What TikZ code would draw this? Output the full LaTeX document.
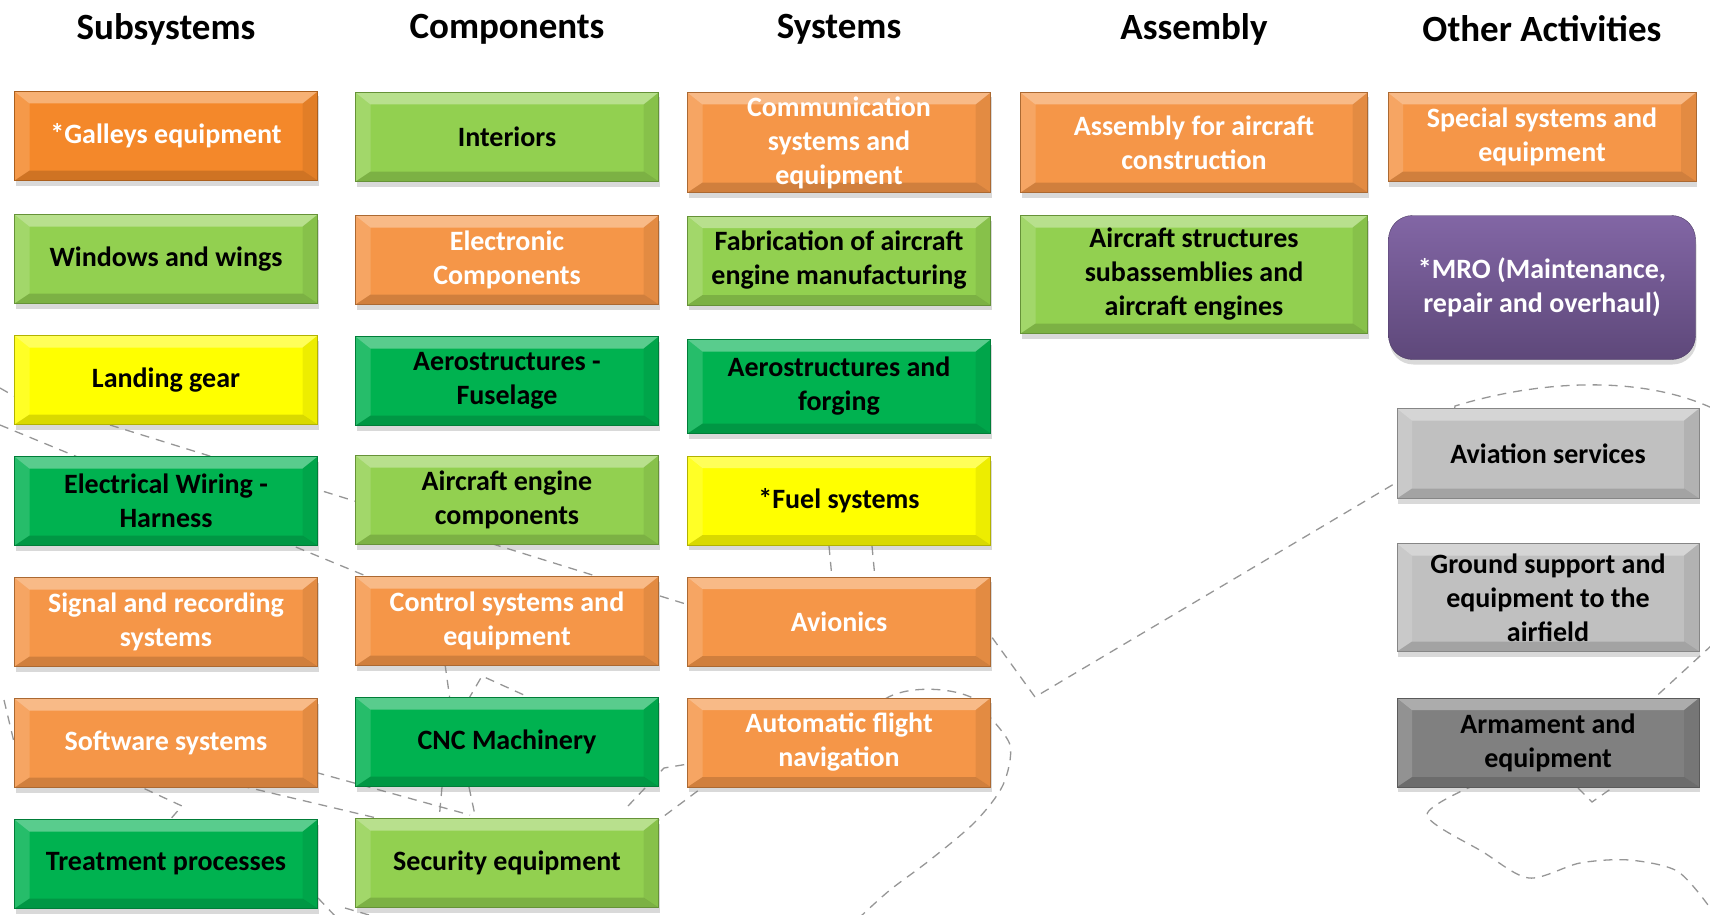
\documentclass[tikz,border=0pt]{standalone}
\usepackage{fontspec}
\setmainfont{Carlito}
\usepackage{tikz}
\usetikzlibrary{positioning,shadows}
\definecolor{boxorange}{RGB}{245,150,72}
\definecolor{galleyorange}{RGB}{244,136,42}
\definecolor{lightgreen}{RGB}{146,208,80}
\definecolor{darkgreen}{RGB}{0,178,80}
\definecolor{boxyellow}{RGB}{255,255,0}
\definecolor{lightgrey}{RGB}{192,192,192}
\definecolor{darkgrey}{RGB}{128,128,128}
\definecolor{mrotop}{RGB}{130,102,165}
\definecolor{mrobottom}{RGB}{94,72,122}
\definecolor{mapline}{RGB}{150,150,150}
\newcommand\boxfont{\fontsize{28}{34}\selectfont\bfseries}
\tikzset{
	node distance=121pt,
	on grid,
	header/.style={font=\fontsize{37}{44}\selectfont\bfseries},
	bevel/.style={path picture={
		\fill[white,opacity=.35] (path picture bounding box.north west) -- (path picture bounding box.north east) -- ([shift={(-15pt,-12pt)}]path picture bounding box.north east) -- ([shift={(15pt,-12pt)}]path picture bounding box.north west) -- cycle;
		\fill[white,opacity=.15] (path picture bounding box.north west) -- (path picture bounding box.south west) -- ([shift={(15pt,10pt)}]path picture bounding box.south west) -- ([shift={(15pt,-12pt)}]path picture bounding box.north west) -- cycle;
		\fill[black,opacity=.07] (path picture bounding box.north east) -- (path picture bounding box.south east) -- ([shift={(-15pt,10pt)}]path picture bounding box.south east) -- ([shift={(-15pt,-12pt)}]path picture bounding box.north east) -- cycle;
		\fill[black,opacity=.15] (path picture bounding box.south west) -- (path picture bounding box.south east) -- ([shift={(-15pt,10pt)}]path picture bounding box.south east) -- ([shift={(15pt,10pt)}]path picture bounding box.south west) -- cycle;
	}},
	box/.style={draw=#1!70!black, fill=#1, bevel, align=center, inner sep=2pt,
		minimum width=303pt, minimum height=89pt, font=\boxfont,
		drop shadow={opacity=.3, shadow xshift=1pt, shadow yshift=-5pt}},
	orangebox/.style={box=boxorange, text=white},
	galleybox/.style={box=galleyorange, text=white},
	lgreenbox/.style={box=lightgreen},
	dgreenbox/.style={box=darkgreen},
	yellowbox/.style={box=boxyellow},
	lgreybox/.style={box=lightgrey},
	dgreybox/.style={box=darkgrey},
	mrobox/.style={draw=mrobottom!80!black, top color=mrotop, bottom color=mrobottom,
		rounded corners=24pt, text=white, align=center, font=\boxfont,
		minimum width=307pt, minimum height=144pt,
		drop shadow={opacity=.3, shadow xshift=1pt, shadow yshift=-5pt}},
	map/.style={draw=mapline, line width=1.3pt, dash pattern=on 9pt off 7pt},
}
\begin{document}
\begin{tikzpicture}[x=1pt, y=-1pt]
	\useasboundingbox (0,0) rectangle (1710,915);

	% map outline behind the boxes
	\draw[map] (0,388) -- (14,396);
	\draw[map] (0,425) -- (400,590);
	\draw[map] (110,425) -- (689,605) -- (991,636) -- (1035,697) -- (1399,481) -- (1450,440) -- (1455,406) .. controls (1540,380) and (1640,375) .. (1712,408);
	\draw[map] (445,664) -- (450,700);
	\draw[map] (468,700) -- (482,676) -- (535,700);
	\draw[map] (300,768) -- (470,815);
	\draw[map] (225,782) -- (385,820);
	\draw[map] (130,782) -- (182,806) -- (168,822);
	\draw[map] (442,787) -- (439,820);
	\draw[map] (469,787) -- (476,820);
	\draw[map] (700,762) -- (664,768) -- (628,806);
	\draw[map] (652,825) -- (715,778);
	\draw[map] (885,699) .. controls (905,686) and (950,686) .. (975,699);
	\draw[map] plot[smooth] coordinates {(985,712) (1010,745) (1003,785) (975,822) (930,860) (890,890) (860,917)};
	\draw[map] (1712,645) -- (1650,702);
	\draw[map] plot[smooth] coordinates {(1475,785) (1427,815) (1483,852) (1529,878) (1580,863) (1629,860) (1677,871) (1708,905)};
	\draw[map] (1578,788) -- (1592,802) -- (1612,788);
	\draw[map] (829,546) -- (832,578);
	\draw[map] (872,546) -- (875,578);
	\draw[map] (4,700) -- (14,742);
	\draw[map] (318,898) -- (336,917);
	\draw[map] (345,908) -- (376,917);

	% column headers
	\node[header] (hsub) at (166,29) {Subsystems};
	\node[header, right=341pt of hsub] (hcomp) {Components};
	\node[header, right=332pt of hcomp] (hsys) {Systems};
	\node[header, right=355pt of hsys] (hasm) {Assembly};
	\node[header, right=348pt of hasm] (hoth) {Other Activities};

	% subsystems
	\node[galleybox, below=107pt of hsub] (gal) {*Galleys equipment};
	\node[lgreenbox, below=123pt of gal] (win) {Windows and wings};
	\node[yellowbox, below=of win] (land) {Landing gear};
	\node[dgreenbox, below=of land] (elec) {Electrical Wiring -\\Harness};
	\node[orangebox, below=of elec] (sig) {Signal and recording\\systems};
	\node[orangebox, below=of sig] (soft) {Software systems};
	\node[dgreenbox, below=of soft] (treat) {Treatment processes};

	% components
	\node[lgreenbox, below=108pt of hcomp] (inter) {Interiors};
	\node[orangebox, below=123pt of inter] (ecomp) {Electronic\\Components};
	\node[dgreenbox, below=of ecomp] (fuse) {Aerostructures -\\Fuselage};
	\node[lgreenbox, below=119pt of fuse] (aeng) {Aircraft engine\\components};
	\node[orangebox, below=of aeng] (ctrl) {Control systems and\\equipment};
	\node[dgreenbox, below=of ctrl] (cnc) {CNC Machinery};
	\node[lgreenbox, below=of cnc] (secu) {Security equipment};

	% systems
	\node[orangebox, below=113.5pt of hsys, minimum height=100pt] (comm) {Communication\\systems and\\equipment};
	\node[lgreenbox, below=118pt of comm] (fab) {Fabrication of aircraft\\engine manufacturing};
	\node[dgreenbox, below=126pt of fab, minimum height=94pt] (forg) {Aerostructures and\\forging};
	\node[yellowbox, below=114pt of forg] (fuel) {*Fuel systems};
	\node[orangebox, below=of fuel] (avio) {Avionics};
	\node[orangebox, below=of avio] (auto) {Automatic flight\\navigation};

	% assembly
	\node[orangebox, below=113.5pt of hasm, minimum width=347pt, minimum height=100pt] (asm) {Assembly for aircraft\\construction};
	\node[lgreenbox, below=132pt of asm, minimum width=347pt, minimum height=118pt] (struc) {Aircraft structures\\subassemblies and\\aircraft engines};

	% other activities
	\node[orangebox, below=108pt of hoth, minimum width=308pt] (spec) {Special systems and\\equipment};
	\node[mrobox, below=150.5pt of spec] (mro) {*MRO (Maintenance,\\repair and overhaul)};
	\node[lgreybox, below=166pt of mro, xshift=6pt, minimum width=302pt, minimum height=90pt] (avserv) {Aviation services};
	\node[lgreybox, below=144pt of avserv, minimum width=302pt, minimum height=108pt] (ground) {Ground support and\\equipment to the\\airfield};
	\node[dgreybox, below=145pt of ground, minimum width=302pt] (arma) {Armament and\\equipment};
\end{tikzpicture}
\end{document}
